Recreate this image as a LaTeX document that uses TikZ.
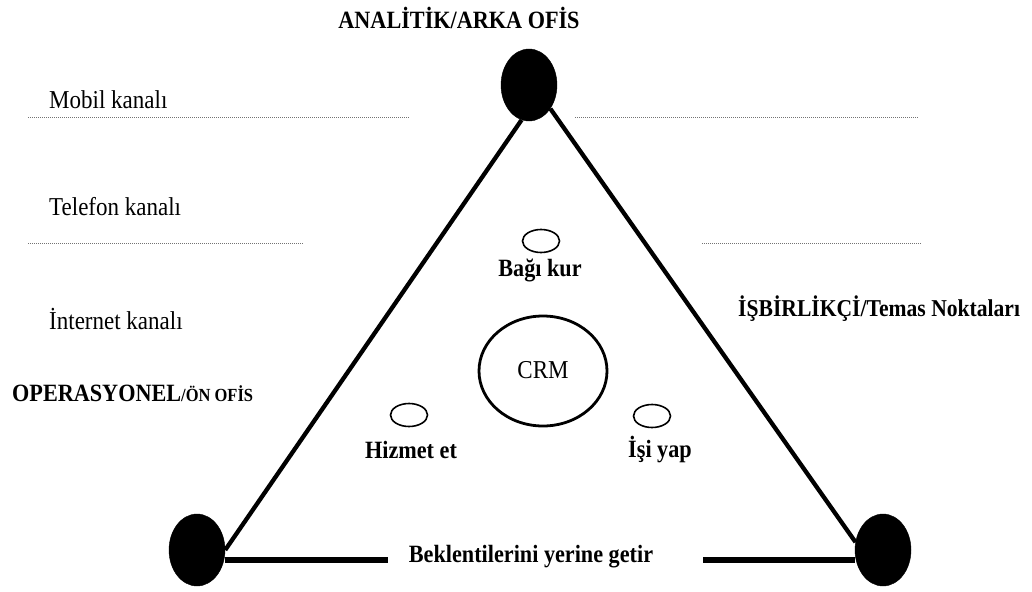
\documentclass[tikz,border=0pt]{standalone}
\usepackage{fontspec}
\setmainfont{Liberation Serif}
\usetikzlibrary{shapes.geometric}
\newcommand{\tallx}[1]{\scalebox{1}[1.12]{#1}}
\begin{document}
\begin{tikzpicture}[x=1pt,y=-1pt,
  txt/.style={font=\fontsize{23}{26}\selectfont, inner sep=0pt},
  btxt/.style={font=\fontsize{22.2}{25}\selectfont\bfseries, inner sep=0pt},
  bigdot/.style={ellipse, fill=black, draw=black, minimum width=56pt, minimum height=72pt, inner sep=0pt},
  smallov/.style={ellipse, draw=black, line width=1.6pt, minimum width=37pt, minimum height=23pt, inner sep=0pt},
  crmov/.style={ellipse, draw=black, line width=2.8pt, minimum width=128pt, minimum height=110pt, inner sep=0pt},
  side/.style={line width=4.3pt},
  base/.style={line width=5.5pt},
  guide/.style={draw=black!55, line width=0.9pt, dash pattern=on 1pt off 1pt}]
\path[use as bounding box] (0,0) rectangle (1032,591);

% corner blobs
\node[bigdot] (top) at (529,85) {};
\node[bigdot] (bl) at (197,550) {};
\node[bigdot] (br) at (883,550) {};

% titles
\node[btxt] (analitik) at (459,18) {\tallx{ANALİTİK/ARKA OFİS}};
\node[btxt, anchor=west] (operasyonel) at (12,393) {\tallx{OPERASYONEL{\fontsize{16.5}{19}\selectfont/ÖN OFİS}}};
\node[btxt, anchor=west, font=\fontsize{21.6}{25}\selectfont\bfseries] (isbirlikci) at (738,309) {\tallx{İŞBİRLİKÇİ/Temas Noktaları}};

% channels
\node[txt, anchor=west] (mobil) at (49,100) {\tallx{Mobil kanalı}};
\node[txt, anchor=west] (telefon) at (49,207) {\tallx{Telefon kanalı}};
\node[txt, anchor=west] (internet) at (49,319) {\tallx{İnternet kanalı}};

% dotted guides
\coordinate (g1a) at (28,117);  \coordinate (g1b) at (410,117);
\coordinate (g1c) at (575,117); \coordinate (g1d) at (918,117);
\coordinate (g2a) at (28,243);  \coordinate (g2b) at (303,243);
\coordinate (g2c) at (702,243); \coordinate (g2d) at (922,243);
\draw[guide] (g1a) -- (g1b);
\draw[guide] (g1c) -- (g1d);
\draw[guide] (g2a) -- (g2b);
\draw[guide] (g2c) -- (g2d);

% triangle sides
\draw[side] (top.258) -- (bl.0);
\draw[side] (top.312) -- (br.164);
\node[btxt] (bek) at (531,557) {\tallx{Beklentilerini yerine getir}};
\coordinate (gapL) at (388,560);
\coordinate (gapR) at (703,560);
\draw[base] (bl.east |- gapL) -- (gapL);
\draw[base] (gapR) -- (br.west |- gapR);

% inner elements
\node[crmov] (crm) at (543,371) {};
\node[txt] (crmtxt) at (543,370) {\tallx{CRM}};
\node[smallov] (bagov) at (541,241) {};
\node[btxt] (bag) at (540,270) {\tallx{Bağı kur}};
\node[smallov] (hizov) at (409,415) {};
\node[btxt] (hiz) at (411,450) {\tallx{Hizmet et}};
\node[smallov] (isiov) at (652,416) {};
\node[btxt] (isi) at (660,450) {\tallx{İşi yap}};
\end{tikzpicture}
\end{document}
